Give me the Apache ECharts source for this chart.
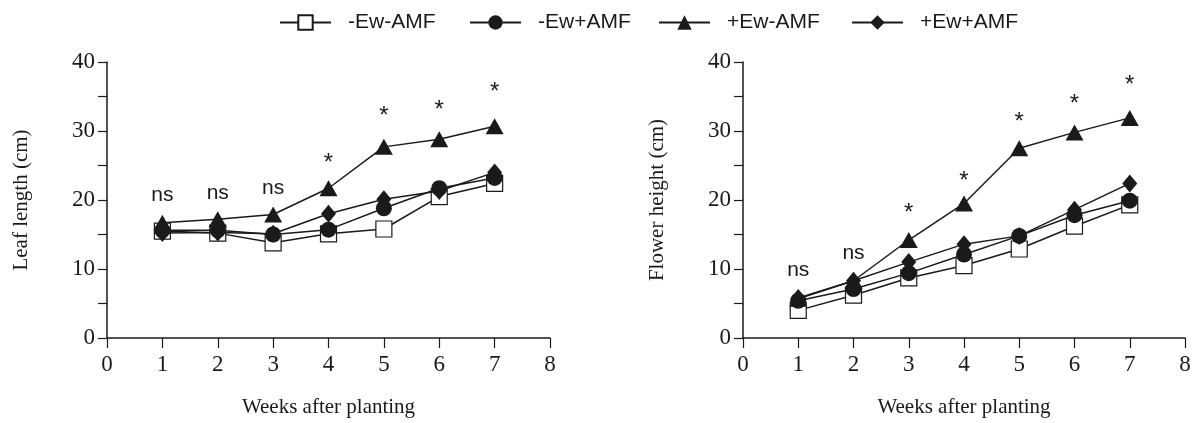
<!DOCTYPE html>
<html>
<head>
<meta charset="utf-8">
<script src="https://cdn.jsdelivr.net/npm/echarts@6/dist/echarts.min.js"></script>
<style>
html,body{margin:0;padding:0;background:#fff;}
#c{width:1199px;height:423px;}
</style>
</head>
<body>
<div id="c"></div>
<script>
// ---- data ----
const weeks = [1, 2, 3, 4, 5, 6, 7];
const seriesNames = ['-Ew-AMF', '-Ew+AMF', '+Ew-AMF', '+Ew+AMF'];

const leafNoEwNoAMF = [15.5, 15.2, 13.8, 15.1, 15.8, 20.5, 22.4];
const leafNoEwAMF   = [15.6, 15.6, 15.0, 15.7, 18.8, 21.7, 23.2];
const leafEwNoAMF   = [16.7, 17.2, 17.9, 21.7, 27.7, 28.8, 30.7];
const leafEwAMF     = [15.2, 15.3, 15.1, 18.0, 20.1, 21.3, 24.0];

const flowerNoEwNoAMF = [4.0, 6.2, 8.7, 10.5, 12.9, 16.2, 19.3];
const flowerNoEwAMF   = [5.4, 7.1, 9.4, 12.1, 14.8, 17.8, 19.9];
const flowerEwNoAMF   = [5.7, 8.3, 14.2, 19.5, 27.5, 29.8, 31.9];
const flowerEwAMF     = [5.8, 8.3, 11.0, 13.6, 14.8, 18.6, 22.4];

const leafSigText = ['ns', 'ns', 'ns', '*', '*', '*', '*'];
const leafSigY    = [20.9, 21.1, 21.9, 26.2, 33.0, 33.8, 36.4];
const flowerSigText = ['ns', 'ns', '*', '*', '*', '*', '*'];
const flowerSigY    = [10.0, 12.4, 19.0, 23.6, 32.1, 34.7, 37.5];

const yTicks = [0, 10, 20, 30, 40];
const xTicks = [0, 1, 2, 3, 4, 5, 6, 7, 8];

// ---- styles ----
const INK = '#1a1a1a';
const SERIF = 'Liberation Serif';
const SANS = 'Liberation Sans';
const legendLefts = [279, 469, 658, 851];

const markerStyles = [
  { symbol: 'rect', symbolSize: 16, itemStyle: { color: '#fff', borderColor: INK, borderWidth: 1.2 }, z: 2 },
  { symbol: 'circle', symbolSize: 16, itemStyle: { color: INK, borderColor: INK, borderWidth: 0 }, z: 5 },
  { symbol: 'triangle', symbolSize: [18, 16], itemStyle: { color: INK, borderColor: INK, borderWidth: 0 }, z: 4 },
  { symbol: 'diamond', symbolSize: [15, 18], itemStyle: { color: INK, borderColor: INK, borderWidth: 0 }, z: 3 }
];

function pairs(vals) { return weeks.map((w, i) => [w, vals[i]]); }

function lineSeries(name, vals, idx, k) {
  const m = markerStyles[k];
  return {
    name: name, type: 'line', xAxisIndex: idx, yAxisIndex: idx,
    data: pairs(vals), symbol: m.symbol, symbolSize: m.symbolSize,
    itemStyle: m.itemStyle, z: m.z,
    lineStyle: { color: INK, width: 1.5 },
    showAllSymbol: true, animation: false
  };
}

function sigSeries(texts, ys, idx) {
  return {
    type: 'scatter', xAxisIndex: idx, yAxisIndex: idx, symbolSize: 0, silent: true,
    animation: false, z: 6, itemStyle: { opacity: 1 },
    data: weeks.map((w, i) => ({
      value: [w, ys[i]],
      label: {
        show: true, position: 'inside', formatter: texts[i], opacity: 1,
        offset: texts[i] === '*' ? [0, 6] : [0, 1],
        fontFamily: SANS, fontSize: texts[i] === '*' ? 24 : 21, color: INK
      }
    }))
  };
}

function xAxis(idx) {
  return {
    type: 'value', gridIndex: idx, min: 0, max: 8, interval: 1,
    name: 'Weeks after planting', nameLocation: 'middle', nameGap: 59,
    nameTextStyle: { fontFamily: SERIF, fontSize: 21, color: INK },
    axisLine: { show: true, onZero: false, lineStyle: { color: INK, width: 1.5 } },
    axisTick: { show: true, inside: false, length: 10, lineStyle: { color: INK, width: 1.2 } },
    axisLabel: { margin: 15, fontFamily: SERIF, fontSize: 23, color: INK,
      formatter: v => (xTicks.indexOf(v) >= 0 ? String(v) : '') },
    splitLine: { show: false }
  };
}

function yAxis(idx, name) {
  return {
    type: 'value', gridIndex: idx, min: 0, max: 40, interval: 5,
    name: name, nameLocation: 'middle', nameGap: 75, nameRotate: 90,
    nameTextStyle: { fontFamily: SERIF, fontSize: 21, color: INK },
    axisLine: { show: true, lineStyle: { color: INK, width: 1.5 } },
    axisTick: { show: true, inside: false, length: 9, lineStyle: { color: INK, width: 1.2 } },
    axisLabel: { margin: 12, fontFamily: SERIF, fontSize: 23, color: INK,
      formatter: v => (yTicks.indexOf(v) >= 0 ? String(v) : '') },
    splitLine: { show: false }
  };
}

const chart = echarts.init(document.getElementById('c'), null, { renderer: 'canvas' });
chart.setOption({
  backgroundColor: '#fff',
  animation: false,
  legend: seriesNames.map((n, i) => ({
    data: [n], left: legendLefts[i], top: 12, itemWidth: 51, itemHeight: 18, itemGap: 0,
    padding: 0,
    textStyle: { fontFamily: SANS, fontSize: 21, color: INK, padding: [0, 0, 0, 12] }
  })),
  grid: [
    { left: 107, right: 649, top: 62, bottom: 85 },
    { left: 743, right: 14, top: 62, bottom: 85 }
  ],
  xAxis: [xAxis(0), xAxis(1)],
  yAxis: [yAxis(0, 'Leaf length (cm)'), yAxis(1, 'Flower height (cm)')],
  series: [
    lineSeries(seriesNames[0], leafNoEwNoAMF, 0, 0),
    lineSeries(seriesNames[1], leafNoEwAMF, 0, 1),
    lineSeries(seriesNames[2], leafEwNoAMF, 0, 2),
    lineSeries(seriesNames[3], leafEwAMF, 0, 3),
    lineSeries(seriesNames[0], flowerNoEwNoAMF, 1, 0),
    lineSeries(seriesNames[1], flowerNoEwAMF, 1, 1),
    lineSeries(seriesNames[2], flowerEwNoAMF, 1, 2),
    lineSeries(seriesNames[3], flowerEwAMF, 1, 3),
    sigSeries(leafSigText, leafSigY, 0),
    sigSeries(flowerSigText, flowerSigY, 1)
  ]
});
</script>
</body>
</html>
